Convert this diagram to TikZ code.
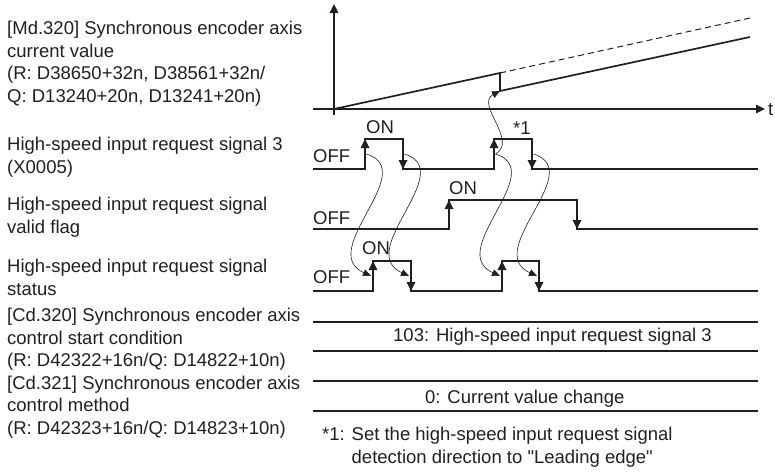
\documentclass[tikz,border=0pt]{standalone}
\usepackage{fontspec}
\setmainfont{Liberation Sans}[Ligatures=TeXOff]
\usetikzlibrary{arrows.meta, calc}
\definecolor{inkgray}{HTML}{231F20}
\tikzset{
	sigline/.style={line width=1.7pt, draw=inkgray},
	edgearr/.style={line width=1.7pt, draw=inkgray, -{Triangle[length=9pt, width=8.5pt]}},
	cause/.style={line width=0.6pt, draw=inkgray, -{Triangle[length=8pt, width=7pt]}},
	lbl/.style={font=\fontsize{18.5}{22.6}\selectfont, text=inkgray, inner sep=0pt, align=left},
	rowline/.style={line width=1.5pt, draw=inkgray},
}

\begin{document}
\begin{tikzpicture}[
		x=1pt, y=-1pt,
		axis/.style={line width=1.2pt, draw=inkgray, -{Triangle[length=9pt, width=8.5pt]}},
		>=Stealth
		]
		\useasboundingbox (0,0) rectangle (775,472);

		% signal names
		\node[lbl, anchor=north west] (md320) at (7,21) {[Md.320] Synchronous encoder axis\\current value\\(R: D38650+32n, D38561+32n/\\Q: D13240+20n, D13241+20n)};
		\node[lbl, anchor=north west] (hsreq) at (7,137) {High-speed input request signal 3\\(X0005)};
		\node[lbl, anchor=north west] (hsvalid) at (7,197) {High-speed input request signal\\valid flag};
		\node[lbl, anchor=north west] (hsstat) at (7,259) {High-speed input request signal\\status};
		\node[lbl, anchor=north west] (cd320) at (7,308) {[Cd.320] Synchronous encoder axis\\control start condition\\(R: D42322+16n/Q: D14822+10n)};
		\node[lbl, anchor=north west] (cd321) at (7,375.5) {[Cd.321] Synchronous encoder axis\\control method\\(R: D42323+16n/Q: D14823+10n)};

		% current value
		\coordinate (o) at (334,109);
		\coordinate (jump) at (500,73);
		\coordinate (drop) at (500,91);
		\draw[axis] (334,115) -- (334,4);
		\draw[axis] (313,109) -- (765,109);
		\node[lbl, anchor=base west] (t) at (768,115) {t};
		\draw[sigline] (o) -- (jump) -- (drop) -- (750,37);
		\draw[line width=1pt, draw=inkgray, dash pattern=on 6pt off 4pt] (jump) -- (750,18);

		% X0005
		\node[lbl, anchor=base west] (off1) at (313,162.5) {OFF};
		\node[lbl, anchor=base west] (on1) at (366,133.5) {ON};
		\node[lbl, anchor=base west] (star) at (513,134.5) {*1};
		\draw[sigline] (313,169) -| (365,139) -| (403,169) -| (494,139) -| (532,169) -- (758,169);
		% valid flag
		\node[lbl, anchor=base west] (off2) at (313,224.5) {OFF};
		\node[lbl, anchor=base west] (on2) at (449,194.5) {ON};
		\draw[sigline] (313,229) -| (449,200) -| (577,229) -- (758,229);
		% status
		\node[lbl, anchor=base west] (off3) at (313,283.5) {OFF};
		\node[lbl, anchor=base west] (on3) at (362,254.5) {ON};
		\draw[sigline] (313,291) -| (373,261) -| (411,291) -| (502,261) -| (539,291) -- (758,291);

		\foreach \x/\a/\b in {365/169/139, 403/139/169, 494/169/139, 532/139/169,
				449/229/200, 577/200/229,
				373/291/261, 411/261/291, 502/291/261, 539/261/291}
			\draw[edgearr] (\x,\a) -- (\x,\b);

		% edge midpoints
		\coordinate (xr1) at (366.5,154);
		\coordinate (xf1) at (404.5,154);
		\coordinate (xr2) at (495.5,154);
		\coordinate (xf2) at (533.5,154);
		\coordinate (sr1) at (371,276);
		\coordinate (sf1) at (409,276);
		\coordinate (sr2) at (500,276);
		\coordinate (sf2) at (537,276);
		\draw[cause] (xr1) .. controls +(54,17) and +(-55,-25) .. (sr1);
		\draw[cause] (xf1) .. controls +(54,17) and +(-55,-25) .. (sf1);
		\draw[cause] (xr2) .. controls +(54,17) and +(-55,-25) .. (sr2);
		\draw[cause] (xf2) .. controls +(54,17) and +(-55,-25) .. (sf2);
		\draw[cause] (xr2) .. controls +(23,-13) and +(-25,13) .. (drop);

		% control settings
		\draw[rowline] (313,322) -- (758,322);
		\draw[rowline] (313,351) -- (758,351);
		\node[lbl, anchor=base west] (cond) at (393,341) {103: High-speed input request signal 3};
		\draw[rowline] (313,381) -- (758,381);
		\draw[rowline] (313,411) -- (758,411);
		\node[lbl, anchor=base west] (meth) at (425,403) {0: Current value change};

		\node[lbl, anchor=base west] (note) at (322,463) {*1: Set the high-speed input request signal\\\phantom{*1: }detection direction to "Leading edge"};
	\end{tikzpicture}
\end{document}
